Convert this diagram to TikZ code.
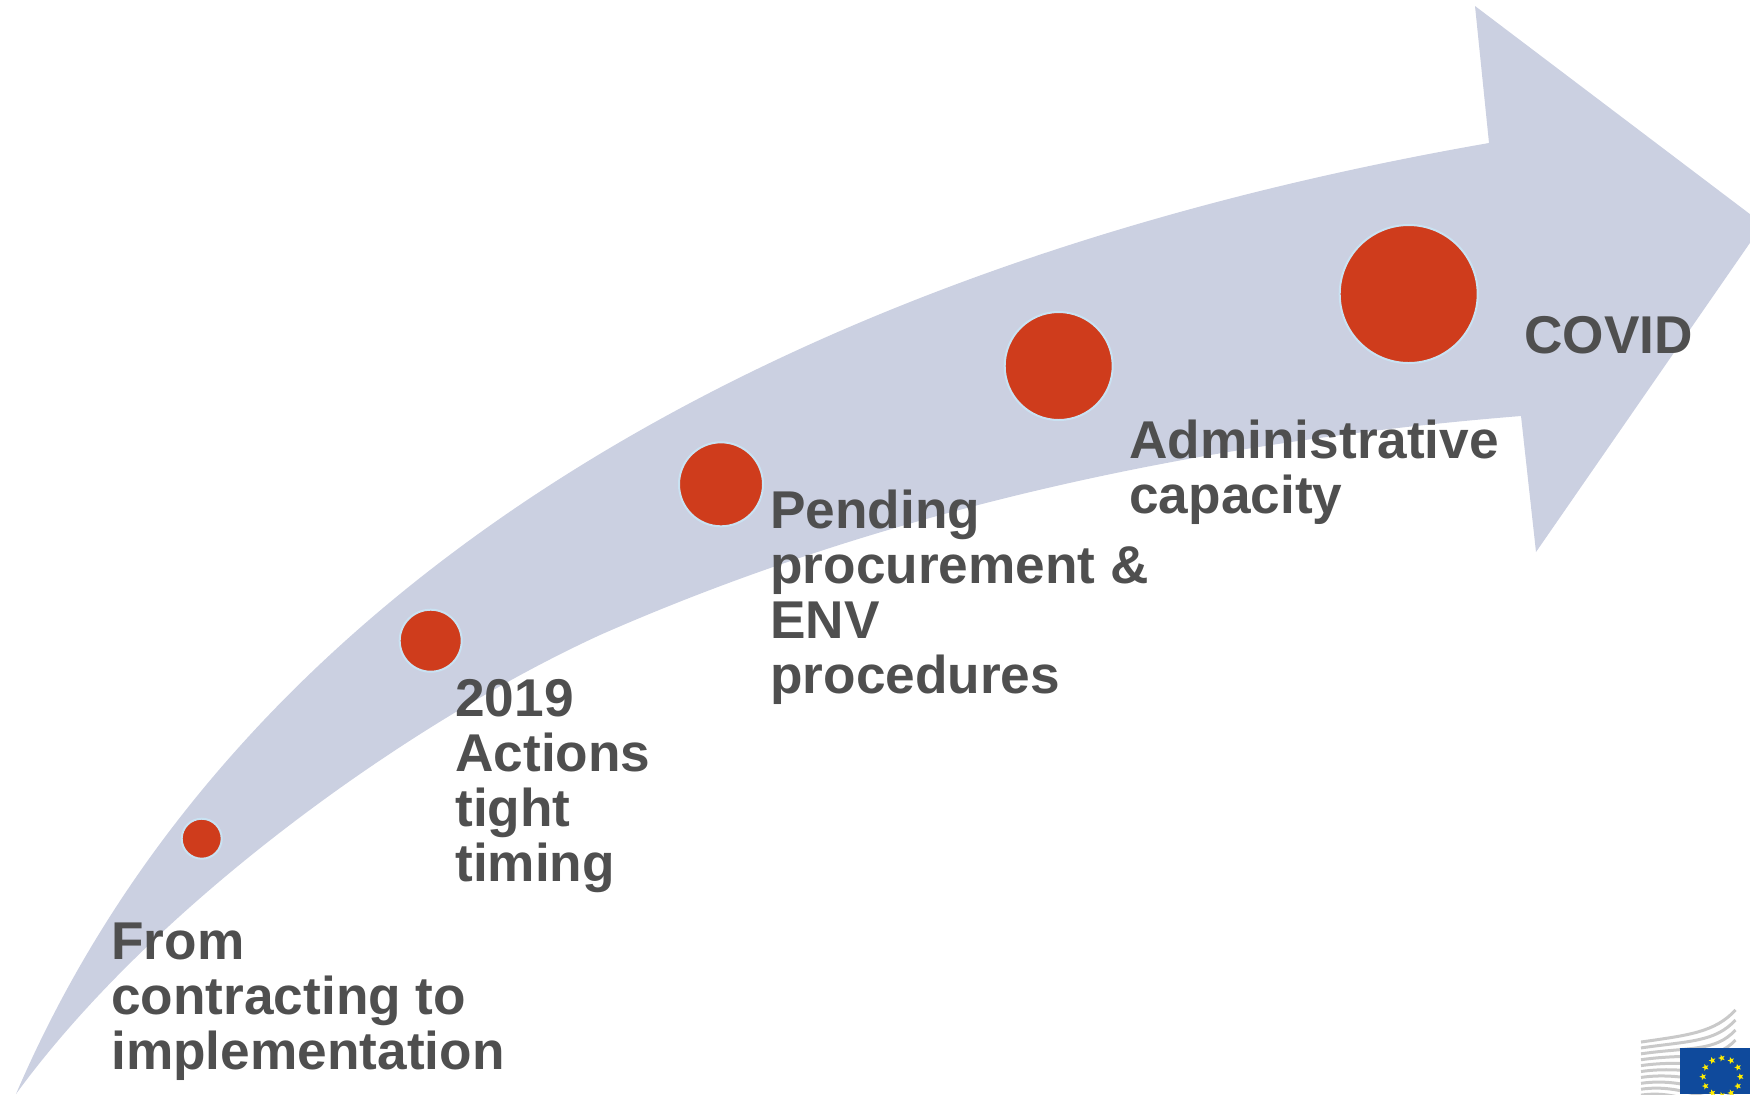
\documentclass[tikz,border=0pt]{standalone}
\usepackage{fontspec}
\setmainfont{Liberation Sans}
\usetikzlibrary{shapes.geometric}
\definecolor{arrowblue}{HTML}{CBD0E1}
\definecolor{dotred}{HTML}{CF3C1C}
\definecolor{halo}{HTML}{C9E2F2}
\definecolor{labelgrey}{HTML}{4F4F4F}
\definecolor{eublue}{HTML}{0F4A9C}
\definecolor{euyellow}{HTML}{FFED00}
\definecolor{stripe}{HTML}{C9C9C9}
\tikzset{
  dot/.style={circle,fill=dotred,draw=halo,line width=1pt,inner sep=0pt,minimum size=#1},
  lab/.style={anchor=base west,inner sep=0pt,align=left,text=labelgrey,
    font=\fontsize{26.6}{27.5}\selectfont\bfseries},
  eustar/.style={star,star points=5,star point ratio=2.4,fill=euyellow,inner sep=0pt,minimum size=3.6pt,shape border rotate=90},
  euline/.style={stripe,line width=1.5pt}
}
\begin{document}
\begin{tikzpicture}[x=0.5pt,y=-0.5pt]
\useasboundingbox (0,0) rectangle (1750,1094);
\clip (0,0) rectangle (1750,1094);
% arrow
\fill[arrowblue] (16,1094) .. controls (230,595) and (760,270) .. (1489,143)
  -- (1475,6) -- (1763,224) -- (1536,552) -- (1521,416)
  .. controls (1221,440) and (900,503) .. (600,635)
  .. controls (400,727) and (150,910) .. (16,1094) -- cycle;
% dots
\node[dot=20pt] (d1) at (201.7,838.7) {};
\node[dot=31pt] (d2) at (430.7,640.7) {};
\node[dot=42pt] (d3) at (721,484.3) {};
\node[dot=54pt] (d4) at (1058.7,366) {};
\node[dot=69pt] (d5) at (1408.7,294) {};
% labels
\node[lab] (t1) at (111,1069) {From\\contracting to\\implementation};
\node[lab] (t2) at (455,881) {2019\\Actions\\tight\\timing};
\node[lab] (t3) at (770,693) {Pending\\procurement \&\\ENV\\procedures};
\node[lab] (t4) at (1129,513) {Administrative\\capacity};
\node[lab] (t5) at (1524,353) {COVID};
% logo
\foreach \i in {0,...,9}{
  \pgfmathsetmacro{\yl}{1042+5.9*\i}
  \pgfmathsetmacro{\yr}{1010+10*\i}
  \draw[euline] (1641,\yl) .. controls (1690,\yl-7) and (1715,\yr+22) .. (1735.5,\yr);
}
\fill[eublue] (1680,1048) rectangle (1750,1094);
\foreach \i in {0,...,11}{
  \node[eustar] (s\i) at ({1721.7+18.7*cos(30*\i)},{1076.7+18.7*sin(30*\i)}) {};
}
\end{tikzpicture}
\end{document}
